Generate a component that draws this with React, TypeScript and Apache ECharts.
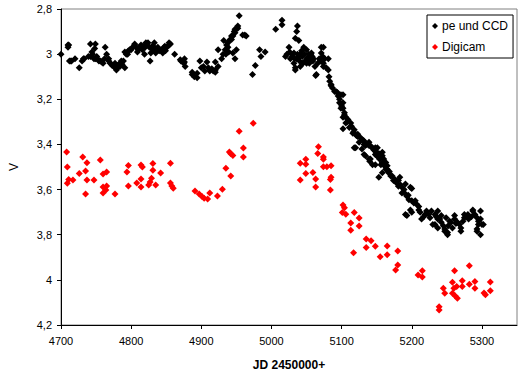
import React, { useEffect, useRef } from "react";
import * as echarts from "echarts";

const seriesNames = ["pe und CCD", "Digicam"];
const xTickValues = [4700, 4800, 4900, 5000, 5100, 5200, 5300];
const yTickValues = [2.8, 3, 3.2, 3.4, 3.6, 3.8, 4, 4.2];

// [JD - 2450000, V]
const peUndCCD: [number, number][] = [
  [4700, 3.0], [4710, 2.96], [4710, 2.97], [4711, 2.96], [4712, 3.03], [4714, 3.03], [4715, 3.03],
  [4726, 3.06], [4732, 3.02], [4733, 3.02], [4739, 3.01], [4742, 2.955], [4742, 3.01], [4744, 2.99],
  [4747, 3.02], [4749, 2.955], [4748, 2.975], [4749, 3.02], [4751, 3.01], [4754, 3.03], [4756, 3.03],
  [4758, 3.035], [4763, 2.97], [4765, 3.0], [4768, 3.02], [4768, 3.03], [4770, 3.04], [4772, 3.045],
  [4775, 3.055], [4777, 3.055], [4777, 3.04], [4779, 3.065], [4779, 3.07], [4784, 3.04], [4784, 3.055],
  [4786, 3.03], [4789, 3.03], [4791, 3.06], [4791, 2.99], [4793, 3.0], [4796, 2.985], [4798, 2.98],
  [4800, 2.98], [4805, 2.955], [4805, 2.96], [4809, 2.99], [4810, 2.98], [4814, 2.96], [4817, 2.965],
  [4819, 3.0], [4820, 2.97], [4821, 2.95], [4824, 2.95], [4826, 2.97], [4827, 3.03], [4828, 2.995],
  [4831, 2.98], [4833, 2.95], [4833, 2.97], [4835, 2.99], [4835, 2.995], [4840, 2.98], [4840, 2.985],
  [4845, 2.995], [4847, 2.97], [4848, 2.965], [4849, 2.985], [4854, 2.95], [4854, 2.96], [4862, 3.0],
  [4871, 3.03], [4870, 3.025], [4876, 3.02], [4876, 3.035], [4875, 3.04], [4877, 3.055], [4887, 3.08],
  [4887, 3.09], [4890, 3.1], [4894, 3.085], [4894, 3.105], [4898, 3.03], [4903, 3.055], [4905, 3.075],
  [4908, 3.035], [4912, 3.075], [4917, 3.075], [4920, 3.07], [4920, 3.035], [4924, 3.055], [4920, 3.08],
  [4924, 2.98], [4929, 3.02], [4931, 3.0], [4934, 2.98], [4932, 2.94], [4936, 2.96], [4938, 2.97],
  [4939, 2.99], [4935, 3.0], [4938, 2.95], [4941, 2.935], [4943, 2.935], [4943, 2.92], [4945, 2.92],
  [4947, 2.9], [4948, 2.905], [4948, 2.89], [4950, 2.98], [4948, 3.02], [4945, 2.995], [4952, 2.875],
  [4952, 2.885], [4954, 2.83], [4959, 2.915], [4962, 2.915], [4964, 2.92], [4973, 3.09], [4977, 3.05],
  [4983, 2.98], [4985, 3.01], [4991, 2.99], [5006, 2.89], [5015, 2.85], [5015, 2.87], [5037, 2.875],
  [5036, 2.9], [5034, 2.93], [5039, 2.94], [5025, 2.97], [5020, 3.01], [5027, 3.02], [5032, 2.995],
  [5036, 3.02], [5041, 3.0], [5046, 2.97], [5050, 2.98], [5053, 3.0], [5057, 2.995], [5055, 3.025],
  [5050, 3.04], [5032, 3.04], [5034, 3.06], [5034, 3.07], [5041, 3.055], [5060, 3.02], [5062, 3.055],
  [5071, 2.97], [5074, 2.97], [5071, 2.995], [5076, 3.02], [5081, 3.02], [5074, 3.04], [5078, 3.06],
  [5064, 3.09], [5063, 3.095], [5081, 3.07], [5082, 3.1], [5074, 3.055], [5044, 3.01], [5048, 3.03],
  [5038, 3.02], [5052, 3.015], [5029, 3.0], [5043, 2.985], [5058, 3.01],
  [5083, 3.12], [5085, 3.135], [5085, 3.14], [5090, 3.165], [5092, 3.165], [5095, 3.185], [5099, 3.18],
  [5102, 3.18], [5102, 3.215], [5097, 3.215], [5099, 3.24], [5102, 3.24], [5104, 3.26], [5104, 3.27],
  [5102, 3.28], [5109, 3.29], [5106, 3.305], [5113, 3.305], [5111, 3.325], [5102, 3.33], [5116, 3.35],
  [5118, 3.335], [5123, 3.355], [5123, 3.365], [5127, 3.37], [5130, 3.38], [5132, 3.385], [5118, 3.415],
  [5120, 3.415], [5125, 3.39], [5129, 3.42], [5134, 3.405], [5132, 3.4], [5139, 3.39], [5139, 3.4],
  [5139, 3.405], [5144, 3.415], [5148, 3.415], [5148, 3.43], [5151, 3.415], [5153, 3.44], [5148, 3.445],
  [5132, 3.445], [5134, 3.45], [5158, 3.45], [5158, 3.435], [5141, 3.465], [5139, 3.465], [5140, 3.475],
  [5148, 3.49], [5156, 3.49], [5163, 3.48], [5158, 3.48], [5160, 3.465], [5165, 3.51], [5163, 3.51],
  [5144, 3.49], [5165, 3.495], [5158, 3.525], [5167, 3.525], [5170, 3.54], [5172, 3.54], [5153, 3.545],
  [5174, 3.56], [5181, 3.56], [5183, 3.545], [5181, 3.585], [5186, 3.59], [5191, 3.575], [5198, 3.59],
  [5200, 3.595], [5186, 3.615], [5191, 3.62], [5193, 3.63], [5196, 3.645], [5200, 3.65], [5205, 3.65],
  [5207, 3.665], [5210, 3.675], [5198, 3.69], [5191, 3.71], [5193, 3.715], [5200, 3.7], [5210, 3.69],
  [5214, 3.73], [5219, 3.71], [5221, 3.695], [5226, 3.725], [5228, 3.695], [5233, 3.71], [5233, 3.755],
  [5230, 3.755], [5237, 3.695], [5237, 3.73], [5237, 3.77], [5242, 3.715], [5242, 3.745], [5247, 3.775],
  [5247, 3.785], [5251, 3.8], [5251, 3.79], [5249, 3.725], [5254, 3.74], [5256, 3.745], [5258, 3.77],
  [5261, 3.715], [5261, 3.73], [5265, 3.745], [5268, 3.755], [5270, 3.77], [5270, 3.785], [5275, 3.71],
  [5275, 3.725], [5280, 3.71], [5281, 3.73], [5287, 3.695], [5287, 3.69], [5293, 3.725], [5293, 3.775],
  [5293, 3.785], [5295, 3.74], [5295, 3.755], [5298, 3.695], [5298, 3.73], [5298, 3.8], [5300, 3.755],
  [5302, 3.755],
  [4720, 3.02], [4730, 3.03], [4745, 3.0], [4752, 3.02], [4760, 3.04], [4762, 3.02], [4773, 3.05],
  [4781, 3.05], [4787, 3.045], [4795, 3.0], [4802, 2.97], [4807, 2.97], [4812, 2.97], [4816, 2.98],
  [4822, 2.96], [4830, 2.965], [4838, 2.97], [4843, 2.98], [4851, 2.97], [4856, 2.955], [4900, 3.06],
  [4910, 3.06], [4915, 3.065],
  [5022, 3.0], [5026, 2.99], [5030, 3.01], [5033, 3.02], [5037, 3.0], [5040, 3.03], [5045, 3.04],
  [5047, 3.0], [5051, 3.02], [5054, 3.04], [5056, 3.0], [5059, 3.03], [5066, 3.04], [5068, 3.02],
  [5070, 3.03], [5073, 3.01],
  [5087, 3.15], [5094, 3.17], [5097, 3.2], [5100, 3.23], [5106, 3.28], [5108, 3.3], [5114, 3.32],
  [5117, 3.345], [5121, 3.36], [5136, 3.4], [5142, 3.41], [5146, 3.425], [5150, 3.45], [5154, 3.465],
  [5161, 3.495], [5168, 3.52], [5176, 3.555], [5178, 3.57], [5184, 3.58], [5189, 3.6], [5195, 3.625],
  [5203, 3.66], [5212, 3.7], [5217, 3.72], [5224, 3.71], [5235, 3.72], [5240, 3.73], [5245, 3.76],
  [5252, 3.76], [5263, 3.75], [5273, 3.74], [5278, 3.72], [5285, 3.72], [5290, 3.71],
];

const digicam: [number, number][] = [
  [4708, 3.434], [4709, 3.5], [4711, 3.555], [4709, 3.572], [4717, 3.558], [4726, 3.529], [4731, 3.456],
  [4737, 3.481], [4735, 3.518], [4737, 3.558], [4735, 3.62], [4747, 3.558], [4756, 3.469], [4760, 3.531],
  [4765, 3.522], [4760, 3.589], [4765, 3.584], [4764, 3.602], [4760, 3.615], [4777, 3.62], [4794, 3.522],
  [4796, 3.493], [4796, 3.584], [4808, 3.571], [4814, 3.491], [4816, 3.5], [4814, 3.553], [4814, 3.589],
  [4825, 3.58], [4829, 3.55], [4827, 3.567], [4831, 3.485], [4831, 3.514], [4835, 3.58], [4842, 3.527],
  [4856, 3.483], [4856, 3.571], [4858, 3.584], [4860, 3.594], [4891, 3.606], [4897, 3.62], [4901, 3.631],
  [4904, 3.639], [4909, 3.642], [4912, 3.615], [4923, 3.628], [4930, 3.599], [4935, 3.506], [4942, 3.54],
  [4940, 3.434], [4942, 3.441], [4945, 3.449], [4954, 3.342], [4960, 3.416], [4960, 3.456], [4974, 3.306],
  [5067, 3.41], [5066, 3.44], [5074, 3.456], [5074, 3.466], [5041, 3.483], [5049, 3.466], [5049, 3.488],
  [5049, 3.529], [5041, 3.558], [5059, 3.524], [5063, 3.553], [5063, 3.589], [5074, 3.499], [5079, 3.499],
  [5085, 3.494], [5085, 3.545], [5084, 3.555], [5084, 3.602], [5102, 3.668], [5104, 3.68], [5101, 3.702],
  [5106, 3.709], [5118, 3.702], [5113, 3.748], [5125, 3.726], [5125, 3.761], [5113, 3.78], [5135, 3.819],
  [5135, 3.857], [5142, 3.827], [5148, 3.851], [5117, 3.88], [5155, 3.898], [5165, 3.85], [5165, 3.889],
  [5180, 3.872], [5180, 3.934], [5177, 3.956], [5209, 3.978], [5215, 3.96], [5215, 3.987], [5239, 4.119],
  [5239, 4.134], [5245, 4.037], [5247, 4.059], [5261, 3.96], [5258, 4.011], [5260, 4.037], [5258, 4.059],
  [5262, 4.071], [5265, 4.082], [5264, 4.029], [5272, 4.004], [5272, 4.029], [5282, 3.938], [5282, 4.019],
  [5290, 4.007], [5290, 4.037], [5305, 4.066], [5303, 4.058], [5312, 4.009], [5312, 4.048],
];

const FONT = "'Liberation Sans', Arial, sans-serif";

export default function App() {
  const ref = useRef<HTMLDivElement>(null);
  useEffect(() => {
    document.body.style.margin = "0";
    const chart = echarts.init(ref.current!, null, { renderer: "svg" });
    chart.setOption({
      animation: false,
      backgroundColor: "#ffffff",
      grid: {
        left: 53,
        right: 2,
        top: 9,
        bottom: 50,
        show: true,
        borderColor: "#808080",
        borderWidth: 1,
        backgroundColor: "transparent",
      },
      legend: {
        orient: "vertical",
        left: 427,
        top: 15,
        padding: [4, 5, 4, 5],
        itemGap: 7,
        itemWidth: 6,
        itemHeight: 6,
        borderColor: "#000",
        borderWidth: 1,
        backgroundColor: "#fff",
        textStyle: { fontFamily: FONT, fontSize: 12, color: "#000", lineHeight: 14, padding: [0, 0, 0, -1] },
        data: seriesNames.map((n) => ({ name: n, icon: "diamond" })),
      },
      xAxis: {
        type: "value",
        min: 4700,
        max: 5350,
        interval: 100,
        name: "JD 2450000+",
        nameLocation: "middle",
        nameGap: 34,
        nameTextStyle: { fontFamily: FONT, fontSize: 12, fontWeight: "bold", color: "#000" },
        axisLine: { show: true, lineStyle: { color: "#000", width: 1 } },
        axisTick: { show: true, length: 4, lineStyle: { color: "#000" }, customValues: xTickValues },
        axisLabel: {
          fontFamily: FONT,
          fontSize: 11,
          color: "#000",
          margin: 10,
          formatter: (v: number) => (xTickValues.includes(v) ? String(v) : ""),
        },
        splitLine: { show: false },
      },
      yAxis: {
        type: "value",
        inverse: true,
        min: 2.8,
        max: 4.2,
        interval: 0.2,
        name: "V",
        nameLocation: "middle",
        nameGap: 41,
        nameRotate: 90,
        nameTextStyle: { fontFamily: FONT, fontSize: 12, color: "#000" },
        axisLine: { show: true, lineStyle: { color: "#000", width: 1 } },
        axisTick: { show: true, length: 4, lineStyle: { color: "#000" } },
        axisLabel: {
          fontFamily: FONT,
          fontSize: 11,
          color: "#000",
          margin: 9,
          formatter: (v: number) => {
            const r = Math.round(v * 10) / 10;
            const t = yTickValues.find((y) => Math.abs(y - r) < 1e-6);
            return t === undefined ? "" : String(t).replace(".", ",");
          },
        },
        splitLine: { show: false },
      },
      series: [
        {
          name: seriesNames[0],
          type: "scatter",
          symbol: "diamond",
          symbolSize: 7,
          itemStyle: { color: "#000000", opacity: 1 },
          data: peUndCCD,
        },
        {
          name: seriesNames[1],
          type: "scatter",
          symbol: "diamond",
          symbolSize: 7,
          itemStyle: { color: "#ff0000", opacity: 1 },
          data: digicam,
        },
      ],
    });
    return () => chart.dispose();
  }, []);
  return <div ref={ref} style={{ width: 520, height: 376 }} />;
}
